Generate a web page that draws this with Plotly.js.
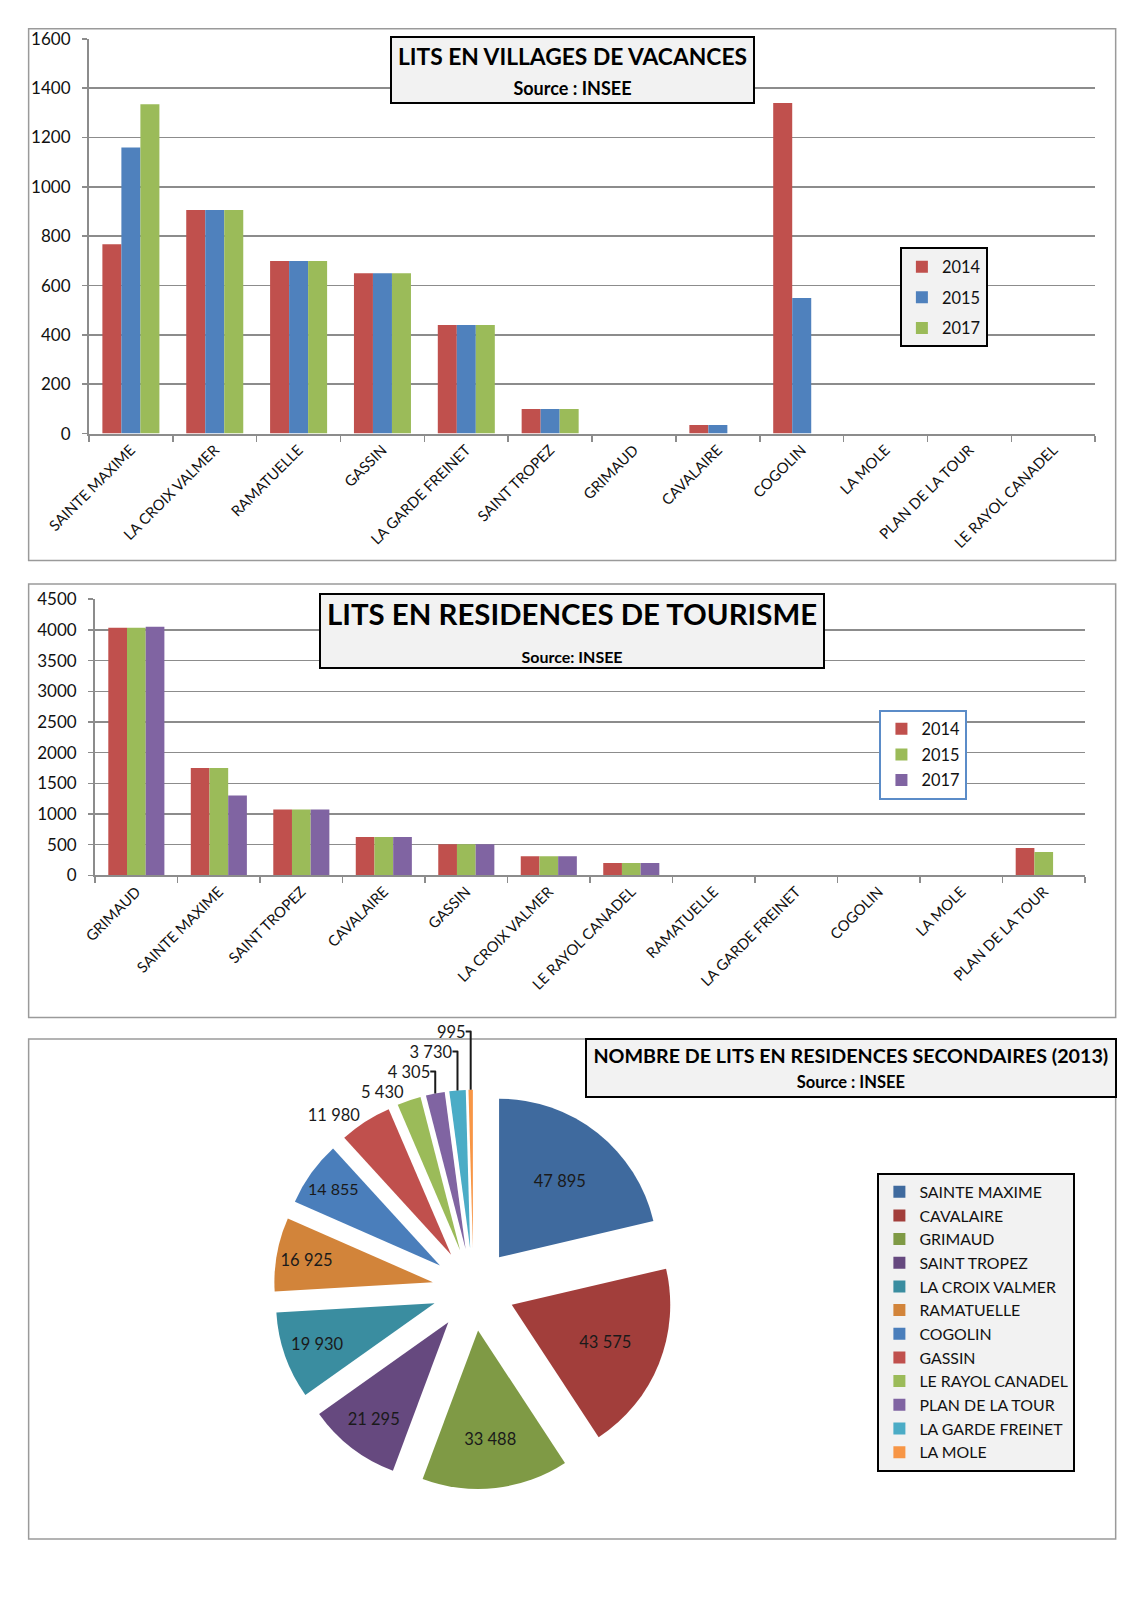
<!DOCTYPE html>
<html>
<head>
<meta charset="utf-8">
<script src="https://cdn.plot.ly/plotly-3.0.1.min.js"></script>
<style>
  html, body { margin: 0; padding: 0; background: #ffffff; }
  #chart { width: 1131px; height: 1600px; }
</style>
</head>
<body>
<div id="chart"></div>
<script>
// ---------- Data: chart 1 (villages de vacances) ----------
const vacCategories = ["SAINTE MAXIME", "LA CROIX VALMER", "RAMATUELLE", "GASSIN", "LA GARDE FREINET", "SAINT TROPEZ", "GRIMAUD", "CAVALAIRE", "COGOLIN", "LA MOLE", "PLAN DE LA TOUR", "LE RAYOL CANADEL"];
const vac2014 = [767, 906, 700, 650, 440, 100, 0, 35, 1340, 0, 0, 0];
const vac2015 = [1160, 906, 700, 650, 440, 100, 0, 35, 550, 0, 0, 0];
const vac2017 = [1335, 906, 700, 650, 440, 100, 0, 0, 0, 0, 0, 0];

// ---------- Data: chart 2 (résidences de tourisme) ----------
const resCategories = ["GRIMAUD", "SAINTE MAXIME", "SAINT TROPEZ", "CAVALAIRE", "GASSIN", "LA CROIX VALMER", "LE RAYOL CANADEL", "RAMATUELLE", "LA GARDE FREINET", "COGOLIN", "LA MOLE", "PLAN DE LA TOUR"];
const res2014 = [4035, 1750, 1075, 625, 505, 310, 200, 0, 0, 0, 0, 445];
const res2015 = [4035, 1750, 1075, 625, 505, 310, 200, 0, 0, 0, 0, 380];
const res2017 = [4050, 1300, 1075, 625, 505, 310, 200, 0, 0, 0, 0, 0];

// ---------- Data: chart 3 (résidences secondaires 2013) ----------
const pieLabels = ["SAINTE MAXIME", "CAVALAIRE", "GRIMAUD", "SAINT TROPEZ", "LA CROIX VALMER", "RAMATUELLE", "COGOLIN", "GASSIN", "LE RAYOL CANADEL", "PLAN DE LA TOUR", "LA GARDE FREINET", "LA MOLE"];
const pieValues = [47895, 43575, 33488, 21295, 19930, 16925, 14855, 11980, 5430, 4305, 3730, 995];

// ---------- Styling ----------
const W = 1131, H = 1600;
const S = 1131 / 1106;               // layout measured on a 1106-wide view
const FONT = "Lato, 'Open Sans', sans-serif";
const px = v => v * S / W;
const py = v => 1 - v * S / H;
const RED = "#C0504D", BLUE = "#4F81BD", GREEN = "#9BBB59", PURPLE = "#8064A2";
const pieColors = ["#3F6A9E", "#A23E3B", "#7F9A45", "#66497F", "#3A8DA0", "#D2843A", "#4A7EBB", "#C0504D", "#9BBB59", "#8064A2", "#4BACC6", "#F79646"];
const pieTextPos = ["inside", "inside", "inside", "inside", "inside", "inside", "inside", "outside", "outside", "outside", "outside", "outside"];
const PULL = 0.26;

function barTrace(x, y, name, color, xa, ya, legend, grp) {
  return {
    type: "bar", x: x, y: y, name: name, xaxis: xa, yaxis: ya, legend: legend,
    legendgroup: grp, marker: { color: color, line: { width: 0 } }, hoverinfo: "skip"
  };
}

// pie geometry (view units): centre and radius
const pieCx = 463, pieCy = 1261, pieR = 155;
const half = pieR * (1 + PULL);

const data = [
  barTrace(vacCategories, vac2014, "2014", RED, "x", "y", "legend", "a1"),
  barTrace(vacCategories, vac2015, "2015", BLUE, "x", "y", "legend", "a2"),
  barTrace(vacCategories, vac2017, "2017", GREEN, "x", "y", "legend", "a3"),
  barTrace(resCategories, res2014, "2014", RED, "x2", "y2", "legend2", "b1"),
  barTrace(resCategories, res2015, "2015", GREEN, "x2", "y2", "legend2", "b2"),
  barTrace(resCategories, res2017, "2017", PURPLE, "x2", "y2", "legend2", "b3"),
  {
    type: "pie", labels: pieLabels, values: pieValues, sort: false, direction: "clockwise",
    rotation: 0, pull: PULL, legend: "legend3",
    marker: { colors: pieColors, line: { width: 0 } },
    texttemplate: "%{value:,}", textposition: pieTextPos, insidetextorientation: "horizontal",
    textfont: { family: FONT, size: 16.5, color: "#1a1a1a" },
    domain: { x: [px(pieCx - half), px(pieCx + half)], y: [py(pieCy + half), py(pieCy - half)] },
    hoverinfo: "skip"
  }
];

const gridColor = "#8c8c8c";
function xAxis(domain, anchor) {
  return {
    domain: domain, anchor: anchor, type: "category", tickangle: -45,
    tickson: "boundaries", ticks: "outside", ticklen: 6, tickcolor: gridColor, tickwidth: 1.5,
    showline: true, linecolor: gridColor, linewidth: 2, showgrid: false,
    tickfont: { family: FONT, size: 14.8, color: "#111" }, fixedrange: true
  };
}
function yAxis(domain, anchor, range, dtick) {
  return {
    domain: domain, anchor: anchor, range: range, dtick: dtick, tick0: 0,
    ticks: "outside", ticklen: 5, tickcolor: gridColor, tickwidth: 1.5,
    showline: true, linecolor: gridColor, linewidth: 2,
    showgrid: true, gridcolor: gridColor, gridwidth: 1.5, zeroline: false,
    ticklabelstandoff: 8,
    tickfont: { family: FONT, size: 17, color: "#111" }, fixedrange: true
  };
}

function panel(x0, y0, x1, y1) {
  return { type: "rect", xref: "paper", yref: "paper", x0: px(x0), x1: px(x1), y0: py(y1), y1: py(y0),
           line: { color: "#9a9a9a", width: 1.5 }, fillcolor: "rgba(0,0,0,0)", layer: "below" };
}

function titleBox(cx, cy, w, h, main, mainSize, sub, subSize) {
  return {
    xref: "paper", yref: "paper", x: px(cx), y: py(cy), xanchor: "center", yanchor: "middle",
    showarrow: false, width: w * S, height: h * S, align: "center", valign: "middle",
    bgcolor: "#f2f2f2", bordercolor: "#000", borderwidth: 2, borderpad: 0,
    text: "<b>" + main + "</b><br><span style='font-size:" + subSize + "px'><b>" + sub + "</b></span>",
    font: { family: FONT, size: mainSize, color: "#000" }
  };
}

const layout = {
  width: W, height: H,
  margin: { l: 0, r: 0, t: 0, b: 0 },
  paper_bgcolor: "#ffffff", plot_bgcolor: "#ffffff",
  font: { family: FONT, color: "#111" },
  separators: ", ",
  barmode: "group", bargap: 0.32, bargroupgap: 0,
  xaxis: xAxis([px(87), px(1071)], "y"),
  yaxis: yAxis([py(424), py(38)], "x", [0, 1600], 200),
  xaxis2: xAxis([px(93), px(1061)], "y2"),
  yaxis2: yAxis([py(856), py(586)], "x2", [0, 4500], 500),
  legend: {
    x: px(880), y: py(242), xanchor: "left", yanchor: "top",
    bgcolor: "#f2f2f2", bordercolor: "#000", borderwidth: 2,
    font: { family: FONT, size: 16.4, color: "#111" }, tracegroupgap: 6.4, itemwidth: 30
  },
  legend2: {
    x: px(860), y: py(694), xanchor: "left", yanchor: "top",
    bgcolor: "#ffffff", bordercolor: "#5b8cc8", borderwidth: 2,
    font: { family: FONT, size: 16.4, color: "#111" }, tracegroupgap: 1.3, itemwidth: 30
  },
  legend3: {
    x: px(858), y: py(1147), xanchor: "left", yanchor: "top",
    bgcolor: "#f2f2f2", bordercolor: "#000", borderwidth: 2,
    font: { family: FONT, size: 15.9, color: "#111" }, itemwidth: 30
  },
  shapes: [
    panel(28, 28, 1091, 548),
    panel(28, 571, 1091, 995),
    panel(28, 1016, 1091, 1505)
  ],
  annotations: [
    titleBox(559.5, 68.5, 353, 63, "LITS EN VILLAGES DE VACANCES", 22.8, "Source : INSEE", 18),
    titleBox(559.5, 617, 491, 70, "LITS EN RESIDENCES DE TOURISME", 29.4, "Source: INSEE", 16),
    titleBox(832, 1044.5, 516, 55, "NOMBRE DE LITS EN RESIDENCES SECONDAIRES (2013)", 19.7, "Source : INSEE", 16.5)
  ]
};

Plotly.newPlot("chart", data, layout, { staticPlot: true, displayModeBar: false });
</script>
</body>
</html>
